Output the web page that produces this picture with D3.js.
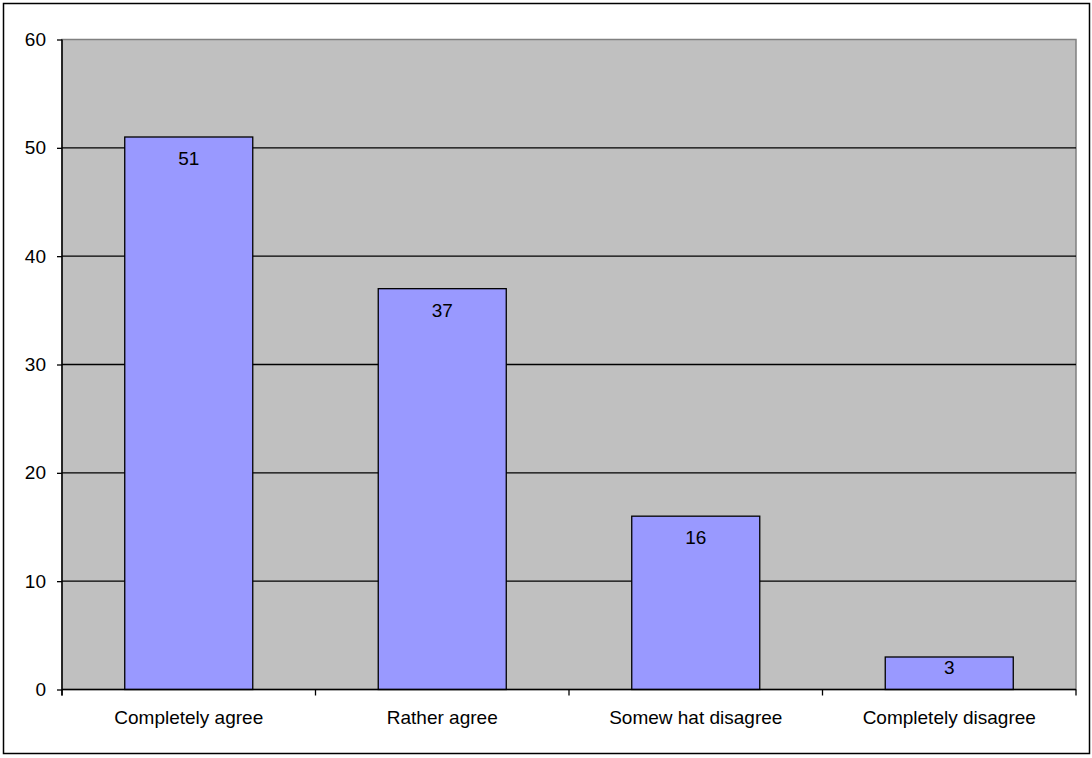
<!DOCTYPE html>
<html>
<head>
<meta charset="utf-8">
<script src="https://cdn.jsdelivr.net/npm/d3@7"></script>
<style>
  html, body { margin: 0; padding: 0; background: #ffffff; }
  svg { display: block; }
  text { font-family: Arial, "Liberation Sans", sans-serif; fill: #000; }
</style>
</head>
<body>
<svg id="chart" width="1092" height="758"></svg>
<script>
// Survey answers and counts
const categories = ["Completely agree", "Rather agree", "Somew hat disagree", "Completely disagree"];
const counts = [51, 37, 16, 3];
const yTicks = [0, 10, 20, 30, 40, 50, 60];

const svg = d3.select("#chart");
const plot = { left: 62, top: 39.5, right: 1076, bottom: 689.5 };
const FONT = 19;

// Outer chart frame
svg.append("rect")
  .attr("x", 3.5).attr("y", 3.5)
  .attr("width", 1086).attr("height", 750)
  .attr("fill", "#fff").attr("stroke", "#000").attr("stroke-width", 1.5);

const x = d3.scaleBand()
  .domain(categories)
  .range([plot.left, plot.right])
  .paddingInner(0.495)
  .paddingOuter(0.2475);

const y = d3.scaleLinear()
  .domain([0, 60])
  .range([plot.bottom, plot.top]);

// Plot area background
svg.append("rect")
  .attr("x", plot.left).attr("y", plot.top)
  .attr("width", plot.right - plot.left).attr("height", plot.bottom - plot.top)
  .attr("fill", "#c0c0c0")
  .attr("stroke", "#808080").attr("stroke-width", 1.5);

// Horizontal gridlines
svg.append("g")
  .selectAll("line")
  .data(yTicks.filter(d => d > 0 && d < 60))
  .join("line")
  .attr("x1", plot.left).attr("x2", plot.right)
  .attr("y1", d => y(d)).attr("y2", d => y(d))
  .attr("stroke", "#000").attr("stroke-width", 1.3);

// Bars
svg.append("g")
  .selectAll("rect")
  .data(counts)
  .join("rect")
  .attr("x", (d, i) => x(categories[i]))
  .attr("y", d => y(d))
  .attr("width", x.bandwidth())
  .attr("height", d => y(0) - y(d))
  .attr("fill", "#9999ff")
  .attr("stroke", "#000").attr("stroke-width", 1.3);

// Value labels inside bar tops (kept inside short bars)
svg.append("g")
  .selectAll("text")
  .data(counts)
  .join("text")
  .attr("x", (d, i) => x(categories[i]) + x.bandwidth() / 2)
  .attr("y", d => y(d) + Math.min(28, (y(0) - y(d)) * 0.51))
  .attr("text-anchor", "middle")
  .attr("font-size", FONT)
  .text(d => d);

// Y axis
const yAxis = d3.axisLeft(y)
  .tickValues(yTicks)
  .tickSize(5)
  .tickPadding(11)
  .tickFormat(d3.format("d"));

const gy = svg.append("g")
  .attr("transform", `translate(${plot.left},0)`)
  .call(yAxis);
gy.select(".domain").attr("stroke", "#000").attr("stroke-width", 1.5)
  .attr("d", `M0,${plot.top}V${plot.bottom + 6}`);
gy.selectAll(".tick line").attr("stroke", "#000").attr("stroke-width", 1.3);
gy.selectAll(".tick text")
  .attr("font-size", FONT)
  .attr("font-family", "Arial, 'Liberation Sans', sans-serif")
  .attr("fill", "#000");

// X axis: ticks sit on category boundaries
const gx = svg.append("g")
  .attr("transform", `translate(0,${plot.bottom})`);
gx.append("line")
  .attr("x1", plot.left).attr("x2", plot.right)
  .attr("y1", 0).attr("y2", 0)
  .attr("stroke", "#000").attr("stroke-width", 1.5);
gx.selectAll("line.tick")
  .data(d3.range(categories.length + 1))
  .join("line")
  .attr("class", "tick")
  .attr("x1", i => plot.left + i * (plot.right - plot.left) / categories.length)
  .attr("x2", i => plot.left + i * (plot.right - plot.left) / categories.length)
  .attr("y1", 0).attr("y2", 6)
  .attr("stroke", "#000").attr("stroke-width", 1.3);
gx.selectAll("text")
  .data(categories)
  .join("text")
  .attr("x", d => x(d) + x.bandwidth() / 2)
  .attr("y", 34.8)
  .attr("text-anchor", "middle")
  .attr("font-size", FONT)
  .text(d => d);
</script>
</body>
</html>
